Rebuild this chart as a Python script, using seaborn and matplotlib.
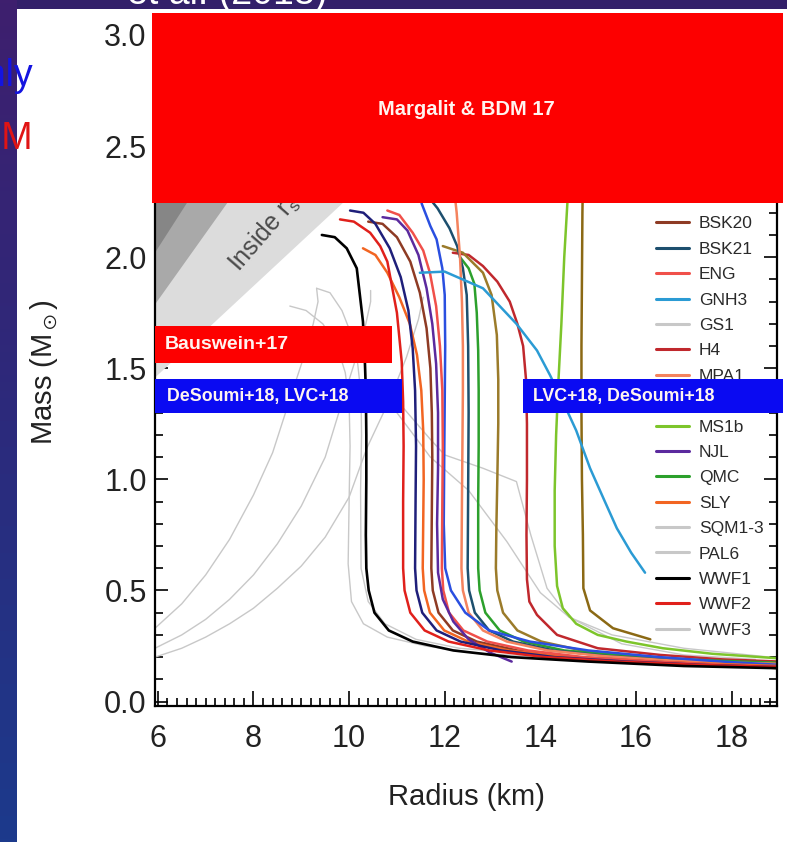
import matplotlib
matplotlib.use("Agg")
import matplotlib.pyplot as plt
from matplotlib.patches import Rectangle, Polygon
from matplotlib.lines import Line2D
from matplotlib.ticker import MultipleLocator
from matplotlib.colors import LinearSegmentedColormap
from matplotlib import font_manager
import numpy as np
import seaborn as sns

# ---------------- mass-radius curves (R in km, M in solar masses) ----------------
wwf1_r = [9.43, 9.70, 9.95, 10.16, 10.29, 10.33, 10.35, 10.36, 10.36, 10.35, 10.36, 10.41, 10.53, 10.83, 11.33, 12.18, 13.4, 15.0, 17.0, 19.0]
wwf1_m = [2.10, 2.09, 2.04, 1.95, 1.71, 1.53, 1.40, 1.20, 1.00, 0.75, 0.60, 0.50, 0.40, 0.32, 0.27, 0.23, 0.20, 0.18, 0.16, 0.15]

wwf2_r = [9.81, 10.10, 10.44, 10.65, 10.80, 11.00, 11.10, 11.13, 11.14, 11.13, 11.13, 11.16, 11.28, 11.58, 12.08, 12.93, 14.1, 15.6, 17.3, 19.0]
wwf2_m = [2.17, 2.16, 2.11, 2.05, 1.98, 1.75, 1.53, 1.35, 1.15, 0.90, 0.60, 0.50, 0.40, 0.32, 0.27, 0.23, 0.20, 0.18, 0.165, 0.155]

ap4_r = [10.02, 10.30, 10.55, 10.85, 11.08, 11.24, 11.33, 11.38, 11.40, 11.39, 11.38, 11.41, 11.53, 11.83, 12.33, 13.18, 14.3, 15.8, 17.4, 19.0]
ap4_m = [2.21, 2.20, 2.15, 2.04, 1.91, 1.76, 1.59, 1.40, 1.15, 0.90, 0.60, 0.50, 0.40, 0.32, 0.27, 0.23, 0.20, 0.18, 0.165, 0.155]

njl_r = [10.70, 11.00, 11.22, 11.45, 11.62, 11.74, 11.82, 11.86, 11.86, 11.84, 11.86, 11.96, 12.18, 12.50, 12.95, 13.40]
njl_m = [2.18, 2.17, 2.12, 2.01, 1.86, 1.70, 1.52, 1.30, 1.05, 0.80, 0.58, 0.46, 0.36, 0.28, 0.22, 0.18]

eng_r = [10.80, 11.05, 11.33, 11.55, 11.69, 11.82, 11.90, 11.95, 11.96, 11.95, 11.94, 11.97, 12.09, 12.39, 12.89, 13.74, 14.9, 16.4, 17.8, 19.0]
eng_m = [2.21, 2.19, 2.11, 2.03, 1.93, 1.78, 1.60, 1.40, 1.15, 0.90, 0.60, 0.50, 0.40, 0.32, 0.27, 0.23, 0.20, 0.18, 0.165, 0.155]

ap3_r = [11.40, 11.52, 11.70, 11.83, 11.95, 12.00, 12.01, 12.00, 11.99, 11.98, 12.01, 12.13, 12.43, 12.93, 13.78, 15.0, 16.5, 17.8, 19.0]
ap3_m = [2.40, 2.24, 2.14, 2.08, 1.95, 1.83, 1.60, 1.35, 1.10, 0.80, 0.60, 0.50, 0.40, 0.32, 0.27, 0.23, 0.20, 0.18, 0.165]

sly_r = [10.29, 10.55, 10.80, 11.05, 11.27, 11.42, 11.51, 11.55, 11.56, 11.55, 11.54, 11.57, 11.69, 11.99, 12.49, 13.34, 14.6, 16.1, 17.6, 19.0]
sly_m = [2.04, 2.01, 1.93, 1.82, 1.70, 1.56, 1.40, 1.22, 1.00, 0.80, 0.60, 0.50, 0.40, 0.32, 0.27, 0.23, 0.20, 0.18, 0.17, 0.16]

bsk20_r = [10.40, 10.70, 11.00, 11.28, 11.48, 11.62, 11.70, 11.73, 11.74, 11.73, 11.72, 11.75, 11.87, 12.17, 12.67, 13.52, 14.8, 16.3, 17.8, 19.0]
bsk20_m = [2.16, 2.15, 2.09, 1.98, 1.84, 1.68, 1.50, 1.30, 1.10, 0.85, 0.60, 0.50, 0.40, 0.32, 0.27, 0.23, 0.20, 0.18, 0.165, 0.15]

mpa1_r = [12.15, 12.25, 12.32, 12.36, 12.38, 12.38, 12.37, 12.36, 12.35, 12.38, 12.50, 12.80, 13.30, 14.15, 15.3, 16.7, 18.0, 19.0]
mpa1_m = [2.40, 2.20, 2.00, 1.80, 1.60, 1.40, 1.15, 0.90, 0.60, 0.50, 0.40, 0.32, 0.27, 0.23, 0.205, 0.185, 0.175, 0.17]

bsk21_r = [11.55, 11.85, 12.10, 12.26, 12.38, 12.46, 12.49, 12.50, 12.49, 12.48, 12.51, 12.63, 12.93, 13.43, 14.28, 15.4, 16.8, 18.0, 19.0]
bsk21_m = [2.30, 2.22, 2.13, 2.05, 1.95, 1.83, 1.60, 1.30, 0.95, 0.60, 0.50, 0.40, 0.32, 0.27, 0.23, 0.205, 0.185, 0.17, 0.16]

qmc_r = [12.32, 12.50, 12.62, 12.67, 12.70, 12.71, 12.71, 12.70, 12.70, 12.73, 12.85, 13.15, 13.65, 14.50, 15.6, 17.0, 18.2, 19.0]
qmc_m = [2.00, 1.95, 1.88, 1.75, 1.58, 1.40, 1.15, 0.90, 0.60, 0.50, 0.40, 0.32, 0.27, 0.23, 0.21, 0.19, 0.18, 0.175]

bsk19_r = [11.96, 12.38, 12.80, 12.98, 13.09, 13.12, 13.12, 13.10, 13.08, 13.07, 13.10, 13.22, 13.52, 14.02, 14.87, 16.0, 17.4, 19.0]
bsk19_m = [2.05, 2.02, 1.93, 1.83, 1.65, 1.45, 1.25, 1.00, 0.78, 0.60, 0.50, 0.40, 0.32, 0.27, 0.23, 0.20, 0.18, 0.165]

h4_r = [12.17, 12.50, 12.80, 13.10, 13.36, 13.52, 13.64, 13.70, 13.72, 13.72, 13.71, 13.72, 13.77, 13.93, 14.35, 15.20, 16.5, 17.8, 19.0]
h4_m = [2.02, 2.01, 1.96, 1.89, 1.80, 1.70, 1.60, 1.45, 1.25, 1.00, 0.75, 0.55, 0.45, 0.39, 0.30, 0.24, 0.21, 0.19, 0.18]

ms1b_r = [14.62, 14.57, 14.50, 14.44, 14.38, 14.33, 14.30, 14.30, 14.35, 14.47, 14.75, 15.20, 15.80, 16.56, 17.60, 18.95]
ms1b_m = [2.50, 2.26, 2.00, 1.70, 1.45, 1.20, 0.95, 0.70, 0.52, 0.42, 0.35, 0.30, 0.27, 0.24, 0.215, 0.195]

ms1_r = [14.90, 14.88, 14.87, 14.86, 14.86, 14.87, 14.89, 14.90, 15.04, 15.52, 16.30]
ms1_m = [2.50, 2.20, 1.90, 1.60, 1.30, 1.00, 0.75, 0.51, 0.41, 0.33, 0.28]

gnh3_r = [11.48, 12.00, 12.80, 13.50, 13.93, 14.20, 14.45, 14.75, 15.04, 15.35, 15.60, 15.90, 16.19]
gnh3_m = [1.93, 1.935, 1.86, 1.70, 1.58, 1.47, 1.36, 1.22, 1.05, 0.90, 0.78, 0.67, 0.58]

# self-bound strange-quark-matter stars and the softer grey models
sqm1_r = [5.94, 6.50, 7.00, 7.50, 8.00, 8.40, 8.76, 9.05, 9.25, 9.35, 9.32]
sqm1_m = [0.33, 0.44, 0.57, 0.73, 0.93, 1.12, 1.36, 1.55, 1.70, 1.80, 1.86]
sqm2_r = [5.94, 6.50, 7.00, 7.50, 8.00, 8.50, 9.00, 9.50, 9.87, 10.15, 10.35, 10.45, 10.45]
sqm2_m = [0.24, 0.30, 0.37, 0.46, 0.57, 0.71, 0.88, 1.10, 1.36, 1.55, 1.70, 1.80, 1.85]
sqm3_r = [5.94, 6.50, 7.00, 7.50, 8.00, 8.50, 9.00, 9.50, 10.00, 10.37, 10.85, 11.20, 11.45, 11.55]
sqm3_m = [0.20, 0.24, 0.29, 0.35, 0.42, 0.51, 0.61, 0.74, 0.92, 1.14, 1.36, 1.55, 1.72, 1.82]

wwf3_r = [8.76, 9.10, 9.45, 9.75, 9.92, 10.00, 10.02, 10.00, 9.98, 10.05, 10.30, 10.80, 11.60, 12.60, 14.00, 15.50]
wwf3_m = [1.78, 1.76, 1.70, 1.60, 1.48, 1.35, 1.15, 0.90, 0.62, 0.45, 0.35, 0.29, 0.25, 0.22, 0.20, 0.19]
pal6_r = [9.32, 9.60, 9.85, 10.05, 10.18, 10.25, 10.26, 10.24, 10.25, 10.40, 10.75, 11.40, 12.30, 13.40]
pal6_m = [1.86, 1.84, 1.76, 1.65, 1.52, 1.38, 1.20, 0.95, 0.60, 0.45, 0.35, 0.28, 0.24, 0.22]
gs1_r = [10.90, 11.30, 11.70, 12.00, 12.80, 13.50, 13.80, 14.14, 14.60, 15.70, 17.00, 18.50]
gs1_m = [1.38, 1.28, 1.18, 1.11, 1.05, 0.99, 0.75, 0.51, 0.38, 0.26, 0.21, 0.19]
gsx_r = [10.60, 11.00, 11.70, 12.50, 13.30, 14.00, 14.60, 15.50, 17.00, 18.80]
gsx_m = [1.40, 1.30, 1.10, 0.95, 0.72, 0.49, 0.38, 0.30, 0.24, 0.20]

# ---------------- legend ----------------
legend_names = ["AP3", "AP4", "BSK19", "BSK20", "BSK21", "ENG", "GNH3", "GS1", "H4", "MPA1",
                "MS1", "MS1b", "NJL", "QMC", "SLY", "SQM1-3", "PAL6", "WWF1", "WWF2", "WWF3"]
legend_colors = ["#2a4fe0", "#1f1f7a", "#9b7b2a", "#8e3b24", "#1d4f6e", "#f0504a", "#2b9bd4",
                 "#c8c8c8", "#c0282d", "#f4835e", "#8b6914", "#7dc52b", "#5b2a9e", "#2ca02c",
                 "#f26522", "#c8c8c8", "#c8c8c8", "#000000", "#e0201b", "#c8c8c8"]

# ---------------- constraint bands ----------------
margalit_r = [5.875, 19.08]
margalit_m = [2.245, 3.10]
bauswein_r = [5.94, 10.90]
bauswein_m = [1.525, 1.69]
desoumi_left_r = [5.94, 11.10]
desoumi_right_r = [13.64, 19.08]
desoumi_m = [1.30, 1.45]

# general-relativity / causality excluded wedges (corner points)
wedge_dark = [(5.85, 1.99), (9.40, 3.18), (5.85, 3.18)]
wedge_mid = [(5.85, 1.76), (10.55, 3.18), (5.85, 3.18)]
wedge_light = [(5.85, 1.44), (14.55, 3.18), (5.85, 3.18)]

# ---------------- style ----------------
sns.set_theme(style="white")
available = {f.name for f in font_manager.fontManager.ttflist}
SANS = "Liberation Sans" if "Liberation Sans" in available else "DejaVu Sans"
plt.rcParams["font.family"] = [SANS, "DejaVu Sans"]
plt.rcParams["mathtext.fontset"] = "custom"
plt.rcParams["mathtext.rm"] = SANS
plt.rcParams["mathtext.it"] = SANS
plt.rcParams["mathtext.fallback"] = "stixsans"

W, H = 787, 842
fig = plt.figure(figsize=(W / 100, H / 100), dpi=100)
fig.patch.set_facecolor("white")

# slide frame: gradient strip on the left, dark band on top
strip = fig.add_axes([0, 0, 17 / W, 1])
grad = np.linspace(0, 1, 256)[:, None]
slide_cmap = LinearSegmentedColormap.from_list("slide", ["#3e1f6e", "#2c2a7c", "#1c3a8c"])
strip.imshow(grad, aspect="auto", cmap=slide_cmap, extent=[0, 1, 0, 1], origin="upper")
strip.set_axis_off()
fig.patches.append(Rectangle((17 / W, 1 - 8.5 / H), 1, 8.5 / H, transform=fig.transFigure,
                             facecolor="#33206a", edgecolor="none", zorder=0))
fig.text(127 / W, 1 - 4 / H, "et al. (2018)", color="white", fontsize=27,
         va="baseline", ha="left", zorder=1)
fig.text(33 / W, 1 - 76 / H, "GW only", color="#1414e0", fontsize=27,
         ha="right", va="center", zorder=3)
fig.text(33 / W, 1 - 139 / H, "GW + EM", color="#e01414", fontsize=27,
         ha="right", va="center", zorder=3)

ax = fig.add_axes([155 / W, 1 - 706 / H, 622 / W, 691 / H])
ax.set_facecolor("white")
ax.set_xlim(5.94, 18.95)
ax.set_ylim(-0.02, 3.09)

for pts, col in [(wedge_light, "#dcdcdc"), (wedge_mid, "#a9a9a9"), (wedge_dark, "#868686")]:
    ax.add_patch(Polygon(pts, closed=True, facecolor=col, edgecolor="none", zorder=1))
ax.text(7.70, 1.93, r"Inside r$_s$", rotation=49, rotation_mode="anchor", color="#4a4a4a",
        fontsize=18, ha="left", va="baseline", zorder=1.5)

grey = "#c8c8c8"
curves = [
    (sqm1_r, sqm1_m, grey, 1.0), (sqm2_r, sqm2_m, grey, 1.0), (sqm3_r, sqm3_m, grey, 1.0),
    (wwf3_r, wwf3_m, grey, 1.0), (pal6_r, pal6_m, grey, 1.0), (gs1_r, gs1_m, grey, 1.0),
    (gsx_r, gsx_m, grey, 1.0),
    (ms1_r, ms1_m, "#8b6914", 1.8), (ms1b_r, ms1b_m, "#7dc52b", 1.8),
    (h4_r, h4_m, "#c0282d", 1.8), (bsk19_r, bsk19_m, "#9b7b2a", 1.8),
    (qmc_r, qmc_m, "#2ca02c", 1.8), (bsk21_r, bsk21_m, "#1d4f6e", 1.8),
    (mpa1_r, mpa1_m, "#f4835e", 1.8), (bsk20_r, bsk20_m, "#8e3b24", 1.8),
    (ap3_r, ap3_m, "#2a4fe0", 1.8), (sly_r, sly_m, "#f26522", 1.8),
    (eng_r, eng_m, "#f0504a", 1.8), (njl_r, njl_m, "#5b2a9e", 1.8),
    (ap4_r, ap4_m, "#1f1f7a", 1.8), (wwf2_r, wwf2_m, "#e0201b", 1.8),
    (gnh3_r, gnh3_m, "#2b9bd4", 1.8), (wwf1_r, wwf1_m, "#000000", 1.9),
]
for r, m, col, lw in curves:
    sns.lineplot(x=r, y=m, sort=False, estimator=None, color=col, lw=lw, ax=ax,
                 legend=False, zorder=2)

handles = [Line2D([], [], color=c, lw=2.2) for c in legend_colors]
leg = ax.legend(handles, legend_names, loc="upper left", bbox_to_anchor=(0.806, 0.819),
                frameon=False, fontsize=12.5, handlelength=1.9, handletextpad=0.55,
                labelspacing=0.59, borderpad=0, borderaxespad=0)
for t in leg.get_texts():
    t.set_color("#2a2a2a")
leg.set_zorder(3)

red, blue = "#fd0000", "#0a0af2"
box_kw = dict(edgecolor="none", zorder=10, clip_on=False)
ax.add_patch(Rectangle((margalit_r[0], margalit_m[0]), margalit_r[1] - margalit_r[0],
                       margalit_m[1] - margalit_m[0], facecolor=red, **box_kw))
ax.add_patch(Rectangle((bauswein_r[0], bauswein_m[0]), bauswein_r[1] - bauswein_r[0],
                       bauswein_m[1] - bauswein_m[0], facecolor=red, **box_kw))
ax.add_patch(Rectangle((desoumi_left_r[0], desoumi_m[0]), desoumi_left_r[1] - desoumi_left_r[0],
                       desoumi_m[1] - desoumi_m[0], facecolor=blue, **box_kw))
ax.add_patch(Rectangle((desoumi_right_r[0], desoumi_m[0]), desoumi_right_r[1] - desoumi_right_r[0],
                       desoumi_m[1] - desoumi_m[0], facecolor=blue, **box_kw))

txt_kw = dict(color="#fff4f0", fontweight="bold", zorder=11, va="center")
ax.text(12.46, 2.665, "Margalit & BDM 17", fontsize=14.5, ha="center", **txt_kw)
ax.text(6.15, 1.605, "Bauswein+17", fontsize=14, ha="left", **txt_kw)
ax.text(6.19, 1.375, "DeSoumi+18, LVC+18", fontsize=12.8, ha="left", **txt_kw)
ax.text(13.85, 1.375, "LVC+18, DeSoumi+18", fontsize=12.8, ha="left", **txt_kw)

# axes frame and ticks
for s in ax.spines.values():
    s.set_color("black")
    s.set_linewidth(1.6)
    s.set_visible(True)
ax.xaxis.set_major_locator(MultipleLocator(2))
ax.xaxis.set_minor_locator(MultipleLocator(0.2))
ax.yaxis.set_major_locator(MultipleLocator(0.5))
ax.yaxis.set_minor_locator(MultipleLocator(0.1))
ax.tick_params(axis="both", which="both", direction="in", top=True, right=True,
               bottom=True, left=True, color="black", width=1.2)
ax.tick_params(axis="x", which="major", length=11, pad=13, labelsize=22)
ax.tick_params(axis="x", which="minor", length=5.5)
ax.tick_params(axis="y", which="major", length=9.5, pad=6, labelsize=22)
ax.tick_params(axis="y", which="minor", length=5.5)
ax.set_xticks([6, 8, 10, 12, 14, 16, 18])
ax.set_yticks([0.0, 0.5, 1.0, 1.5, 2.0, 2.5, 3.0])
ax.set_yticklabels(["0.0", "0.5", "1.0", "1.5", "2.0", "2.5", "3.0"])
for lab in ax.get_xticklabels() + ax.get_yticklabels():
    lab.set_color("#222222")

ax.set_xlabel("Radius (km)", fontsize=21, color="#222222")
ax.set_ylabel(r"Mass (M$_\odot$)", fontsize=21, color="#222222")
ax.xaxis.set_label_coords(0.5, -0.112)
ax.yaxis.set_label_coords(-0.153, 0.483)

fig.savefig("out.png", dpi=100, facecolor=fig.get_facecolor())
